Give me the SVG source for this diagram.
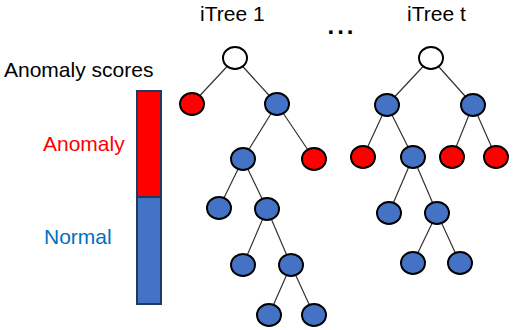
<svg xmlns="http://www.w3.org/2000/svg" width="514" height="330" viewBox="0 0 514 330">
<style>
text{font-family:"Liberation Sans",Arial,sans-serif;font-size:21px}
.e{stroke:#333;stroke-width:1.2;fill:none}
.n{stroke:#000;stroke-width:2}
.w{fill:#fff}.b{fill:#4472C4}.r{fill:#FF0000}
</style>
<rect width="514" height="330" fill="#fff"/>
<g id="legend">
<text x="4" y="77" fill="#000">Anomaly scores</text>
<rect x="137" y="91" width="24" height="106" fill="#FF0000" stroke="#1F3864" stroke-width="2"/>
<rect x="137" y="197" width="24" height="107" fill="#4472C4" stroke="#1F3864" stroke-width="2"/>
<text x="43" y="151" fill="#FF0000">Anomaly</text>
<text x="44" y="244" fill="#0070C0">Normal</text>
</g>
<g id="titles">
<text x="200" y="21">iTree 1</text>
<text x="407" y="21">iTree t</text>
<text x="327.5" y="34" style="font-size:24px;font-weight:bold;letter-spacing:3px">...</text>
</g>
<g id="connectors" class="e">
<path d="M235 58L192 104M235 58L277 104M277 104L243 159M277 104L314 159M243 159L219 208M243 159L267 209M267 209L243 265M267 209L291 265M291 265L269 315M291 265L314 315"/>
<path d="M431 58L387 105M431 58L473 105M387 105L363 157M387 105L413 157M473 105L452 157M473 105L496 157M413 157L389 213M413 157L437 213M437 213L413 263M437 213L460 263"/>
</g>
<g id="tree1" class="n">
<ellipse id="t1n0" class="w" cx="235" cy="58" rx="12" ry="11"/>
<ellipse id="t1n1" class="r" cx="192" cy="104" rx="12" ry="11"/>
<ellipse id="t1n2" class="b" cx="277" cy="104" rx="12" ry="11"/>
<ellipse id="t1n3" class="b" cx="243" cy="159" rx="12" ry="11"/>
<ellipse id="t1n4" class="r" cx="314" cy="159" rx="12" ry="11"/>
<ellipse id="t1n5" class="b" cx="219" cy="208" rx="12" ry="11"/>
<ellipse id="t1n6" class="b" cx="267" cy="209" rx="12" ry="11"/>
<ellipse id="t1n7" class="b" cx="243" cy="265" rx="12" ry="11"/>
<ellipse id="t1n8" class="b" cx="291" cy="265" rx="12" ry="11"/>
<ellipse id="t1n9" class="b" cx="269" cy="315" rx="12" ry="11"/>
<ellipse id="t1n10" class="b" cx="314" cy="315" rx="12" ry="11"/>
</g>
<g id="treet" class="n">
<ellipse id="ttn0" class="w" cx="431" cy="58" rx="12" ry="11"/>
<ellipse id="ttn1" class="b" cx="387" cy="105" rx="12" ry="11"/>
<ellipse id="ttn2" class="b" cx="473" cy="105" rx="12" ry="11"/>
<ellipse id="ttn3" class="r" cx="363" cy="157" rx="12" ry="11"/>
<ellipse id="ttn4" class="b" cx="413" cy="157" rx="12" ry="11"/>
<ellipse id="ttn5" class="r" cx="452" cy="157" rx="12" ry="11"/>
<ellipse id="ttn6" class="r" cx="496" cy="157" rx="12" ry="11"/>
<ellipse id="ttn7" class="b" cx="389" cy="213" rx="12" ry="11"/>
<ellipse id="ttn8" class="b" cx="437" cy="213" rx="12" ry="11"/>
<ellipse id="ttn9" class="b" cx="413" cy="263" rx="12" ry="11"/>
<ellipse id="ttn10" class="b" cx="460" cy="263" rx="12" ry="11"/>
</g>
</svg>
